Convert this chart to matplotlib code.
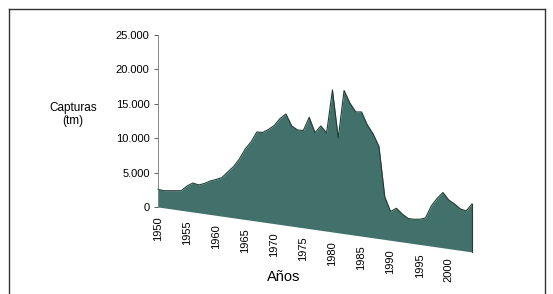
import numpy as np
import matplotlib
matplotlib.use("Agg")
import matplotlib.pyplot as plt
from matplotlib.lines import Line2D

# catches per year (tm)
years = np.arange(1950, 2005)
capturas = [2570, 2490, 2610, 2730, 2850, 3660, 4210, 4050, 4390, 4870,
            5210, 5620, 6540, 7460, 8670, 10250, 11390, 12960, 13010, 13570,
            14270, 15410, 16180, 14560, 14100, 14150, 16190, 14070, 15170, 14270,
            20640, 13780, 20810, 19110, 17930, 18050, 16280, 15090, 13400, 6180,
            4190, 4780, 4070, 3540, 3540, 3660, 3970, 5840, 7050, 8040,
            7070, 6610, 6010, 5840, 6980]
ytick_vals = [0, 5000, 10000, 15000, 20000, 25000]
ytick_labels = ["0", "5.000", "10.000", "15.000", "20.000", "25.000"]
xtick_years = list(range(1950, 2001, 5))

SLANT = 121.0   # perspective drop of the floor, data units per year
FILL = "#42706a"
EDGE = "#1f3d36"
FONT = "Liberation Sans"
TXT = "#000000"

W, H = 553, 294
fig = plt.figure(figsize=(W / 100, H / 100), dpi=100)
ax = fig.add_axes([158 / W, 1 - 275.8 / H, (472 - 158) / W, (275.8 - 35) / H])
ax.set_xlim(1950, 2004)
ax.set_ylim(-10000, 25000)

vals = np.array(capturas, dtype=float)
floor = -SLANT * (years - 1950)
ax.fill_between(years, floor, floor + vals, color=FILL, lw=0, clip_on=False)
ax.plot(years, floor + vals, color=EDGE, lw=0.8, clip_on=False)
ax.plot([years[-1], years[-1]], [floor[-1], floor[-1] + vals[-1]],
        color=EDGE, lw=0.8, clip_on=False)

for s in ["top", "right", "bottom"]:
    ax.spines[s].set_visible(False)
ax.spines["left"].set_bounds(0, 25000)
ax.spines["left"].set_color("#777777")
ax.spines["left"].set_linewidth(0.6)
ax.spines["left"].set_linestyle((0, (1.5, 1)))
ax.set_yticks(ytick_vals)
ax.set_yticklabels(ytick_labels, fontsize=8, family=FONT, color=TXT)
ax.tick_params(axis="y", length=3, width=0.6, pad=3, color="#444444")
ax.set_xticks([])

for yr in xtick_years:
    yb = -SLANT * (yr - 1950)
    ax.annotate(str(yr), (yr, yb), xytext=(0, -9), textcoords="offset pixels",
                rotation=90, ha="center", va="top", fontsize=8, family=FONT,
                color=TXT, annotation_clip=False)

fig.text(73 / W, 1 - 114.5 / H, "Capturas\n(tm)", ha="center", va="center",
         fontsize=8.5, family=FONT, color=TXT, linespacing=1.1)
fig.text(284 / W, 1 - 277 / H, "Años", ha="center", va="center",
         fontsize=10.5, family=FONT, color=TXT)

# frame around the figure
for xs, ys in [([8.5, 8.5], [8.5, H]), ([8.5, 545], [8.5, 8.5]), ([545, 545], [8.5, H])]:
    fig.add_artist(Line2D([x / W for x in xs], [1 - y / H for y in ys],
                          color="#333333", lw=1.0, transform=fig.transFigure))

fig.savefig("out.png", dpi=100)
